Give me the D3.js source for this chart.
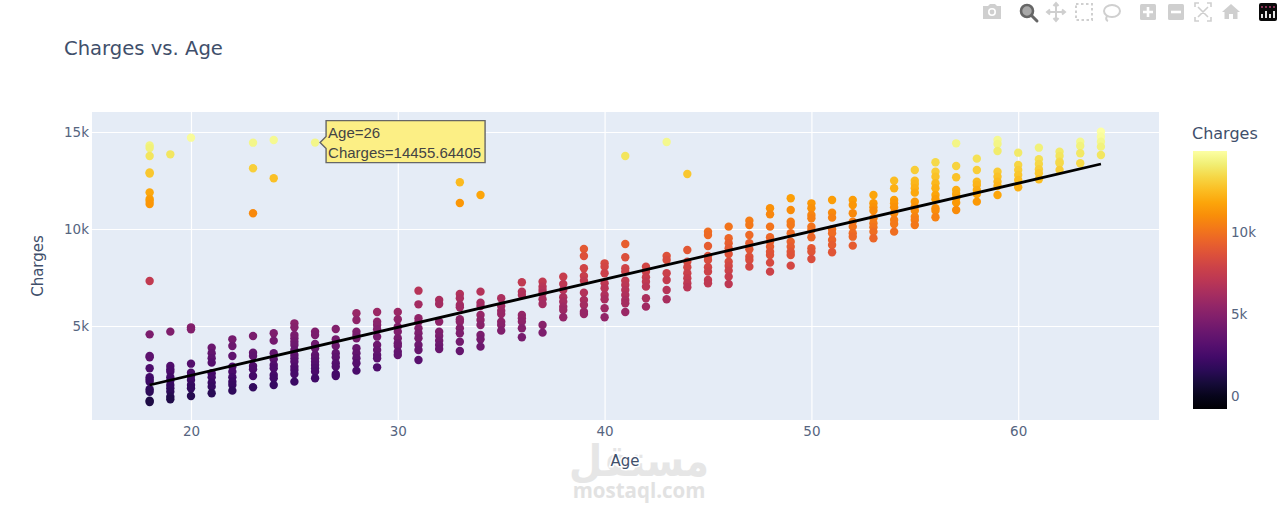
<!DOCTYPE html>
<html>
<head>
<meta charset="utf-8">
<title>Charges vs. Age</title>
<script src="https://cdnjs.cloudflare.com/ajax/libs/d3/7.8.5/d3.min.js"></script>
<style>
  html, body { margin: 0; padding: 0; background: #fff; overflow: hidden; }
  svg { display: block; }
  text { font-family: "DejaVu Sans", sans-serif; }
</style>
</head>
<body>
<svg id="chart" width="1280" height="512"></svg>
<script>
// Insurance charges per age, one list per age value
const ages = [18,19,20,21,22,23,24,25,26,27,28,29,30,31,32,33,34,35,36,37,38,39,40,41,42,43,44,45,46,47,48,49,50,51,52,53,54,55,56,57,58,59,60,61,62,63,64];
const chargesByAge = [
  [14305,14176,13764,12913,12860,11882,11547,11444,11289,7320,4570,3454,3386,2820,2355,2240,2127,1737,1613,1150,1083],
  [13850,4709,2939,2767,2647,2355,2183,1960,1788,1616,1359,1221],
  [14709,4932,4829,3059,2596,2424,2218,1960,1788,1393],
  [3884,3592,3334,3111,2561,2355,2080,1874,1530],
  [4313,3970,3454,2905,2647,2355,2132,1960,1668],
  [14451,13130,10810,4485,3626,3454,2939,2767,2424,1840],
  [14589,12615,4623,4245,3592,3283,2991,2819,2475,2303,1960],
  [5138,4932,4537,4365,4193,4022,3764,3506,3334,3162,2905,2733,2527,2132],
  [14455.64405,4709,4537,4073,3850,3506,3334,3162,2991,2819,2647,2303],
  [4846,4313,3970,3592,3386,3077,2905,2527,2424],
  [5654,5310,4709,4537,4365,3850,3592,3334,3077,2699],
  [5722,5224,5052,4829,4451,4022,3764,3506,3334,2870],
  [5722,5344,4966,4709,4365,4108,3970,3678,3506],
  [6822,6117,5396,5224,4880,4623,4365,4022,3764,3249],
  [6341,6135,5224,4709,4485,4245,4022,3815],
  [12408,11341,6650,6427,6083,5963,5345,5224,4880,4623,4193,3712],
  [11753,6771,6204,6032,5569,5311,5053,4538,4314,3936],
  [6427,6032,5792,5620,5225,5053,4761],
  [7252,6771,6599,5569,5397,5225,4881,4417],
  [7286,7029,6857,6685,6376,6135,5053,4658],
  [7544,7166,6857,6479,6256,5998,5826,5448],
  [8970,8609,7974,7579,7338,6720,6341,6084,5740,5620],
  [8231,8060,7716,7201,6943,6599,6376,5912,5448],
  [13764,9228,8541,7974,7802,7338,7115,6857,6599,6342,6170,5723],
  [8060,7802,7510,7286,7029,6427,5998],
  [14485,8610,8404,7717,7373,6858,6377],
  [12836,8919,8318,8026,7717,7459,7201,6995],
  [9864,9692,9125,8610,8404,8026,7802,7373,7201],
  [10122,9520,9263,9005,8713,8318,8095,7854,7545,7167],
  [10431,10208,9692,9263,8954,8576,8404,8060],
  [11067,10757,10122,9572,9349,9091,8833,8661,8266,7803],
  [11582,10981,10380,10208,9778,9349,9091,8833,8661,8112],
  [11324,11067,10723,10551,10122,9950,9572,9005,8833,8455],
  [11496,10843,10586,9984,9778,9435,9177,8799],
  [11496,11239,10809,10380,10122,9778,9606,9143],
  [11755,11325,11119,10947,10552,10294,10088,9865,9521],
  [12493,12098,11497,11325,11119,10810,10466,10260,9865],
  [13043,12493,12321,12098,11875,11411,11153,10947,10638,10466,10208],
  [13438,12957,12699,12356,12098,11755,11531,11067,10947,10603],
  [14417,13249,12665,12012,11806,11583,11359,10982],
  [13627,13043,12442,12270,12012,11806,11411],
  [14589,14383,14022,12957,12699,12442,12218,11755],
  [13936,13301,13043,12785,12528,12150],
  [14194,13593,13352,13077,12871,12562],
  [13988,13765,13472,13387,13043],
  [14503,14280,13902,13387],
  [15019,14761,14503,14246,13816]
];

// Fitted trend line endpoints
const trendAges = [18, 64];
const trendCharges = [1959, 13351];

const xTicks = [20, 30, 40, 50, 60];
const yTicks = [5000, 10000, 15000];
const colorTicks = [0, 5000, 10000];
const colorDomain = [-790, 14910];
const hoverAge = 26;
const hoverCharges = 14455.64405;

const svg = d3.select("#chart");
const plot = { left: 92, right: 1159, top: 112, bottom: 420 };
const bar = { left: 1193, right: 1227, top: 151, bottom: 409 };

const x = d3.scaleLinear()
  .domain([20 - 99 / 20.68, 20 + (1159 - 191) / 20.68])
  .range([plot.left, plot.right]);
const y = d3.scaleLinear()
  .domain([(423 - 420) * 51.55, (423 - 112) * 51.55])
  .range([plot.bottom, plot.top]);
const color = d3.scaleSequential(d3.interpolateInferno).domain(colorDomain);
const kFormat = d => d === 0 ? "0" : (d / 1000) + "k";

// Plot background
svg.append("rect")
  .attr("x", plot.left).attr("y", plot.top)
  .attr("width", plot.right - plot.left).attr("height", plot.bottom - plot.top)
  .attr("fill", "#e5ecf6");

// Axes with white grid lines
const xAxis = svg.append("g")
  .attr("transform", `translate(0,${plot.bottom})`)
  .call(d3.axisBottom(x).tickValues(xTicks).tickFormat(d3.format("d"))
    .tickSize(-(plot.bottom - plot.top)).tickPadding(6));
const yAxis = svg.append("g")
  .attr("transform", `translate(${plot.left},0)`)
  .call(d3.axisLeft(y).tickValues(yTicks).tickFormat(kFormat)
    .tickSize(-(plot.right - plot.left)).tickPadding(3));
[xAxis, yAxis].forEach(g => {
  g.select(".domain").remove();
  g.selectAll(".tick line").attr("stroke", "#fff").attr("stroke-width", 1.2);
  g.selectAll(".tick text").attr("fill", "#56657f").attr("font-size", 13.5);
});

// Scatter points
const points = ages.flatMap((age, i) => chargesByAge[i].map(charge => ({ age, charge })));
svg.append("g").selectAll("circle")
  .data(points)
  .join("circle")
  .attr("cx", d => x(d.age))
  .attr("cy", d => y(d.charge))
  .attr("r", 4.2)
  .attr("fill", d => color(d.charge));

// Trend line
const line = d3.line().x(d => x(d[0])).y(d => y(d[1]));
svg.append("path")
  .datum(d3.zip(trendAges, trendCharges))
  .attr("d", line)
  .attr("fill", "none")
  .attr("stroke", "#000")
  .attr("stroke-width", 2.8);

// Title and axis titles
svg.append("text").attr("x", 64).attr("y", 55)
  .attr("fill", "#3f4f6b").attr("font-size", 19.6).text("Charges vs. Age");

// Site mark below the axis
const mark = svg.append("g").attr("text-anchor", "middle");
mark.append("text").attr("transform", "translate(639,476) scale(0.87,1)")
  .attr("fill", "#e6e6e6").attr("font-size", 44).attr("font-weight", "bold").text("مستقل");
mark.append("text").attr("x", 639).attr("y", 498)
  .style("font-family", "'Open Sans', sans-serif").attr("font-weight", "bold")
  .attr("font-size", 20.5).attr("fill", "#e2e2e2").text("mostaql.com");

svg.append("text").attr("x", 625).attr("y", 466)
  .attr("text-anchor", "middle").attr("fill", "#3f4f6b").attr("font-size", 15)
  .attr("stroke", "#fff").attr("stroke-width", 3).attr("paint-order", "stroke")
  .text("Age");
svg.append("text")
  .attr("transform", "translate(43,266) rotate(-90)")
  .attr("text-anchor", "middle").attr("fill", "#3f4f6b").attr("font-size", 15)
  .text("Charges");

// Colour bar
const defs = svg.append("defs");
const gradient = defs.append("linearGradient")
  .attr("id", "barFill").attr("x1", 0).attr("x2", 0).attr("y1", 1).attr("y2", 0);
d3.range(0, 1.0001, 0.05).forEach(t => {
  gradient.append("stop").attr("offset", t).attr("stop-color", d3.interpolateInferno(t));
});
svg.append("rect")
  .attr("x", bar.left).attr("y", bar.top)
  .attr("width", bar.right - bar.left).attr("height", bar.bottom - bar.top)
  .attr("fill", "url(#barFill)");
const barScale = d3.scaleLinear().domain(colorDomain).range([bar.bottom, bar.top]);
const barAxis = svg.append("g")
  .attr("transform", `translate(${bar.right},0)`)
  .call(d3.axisRight(barScale).tickValues(colorTicks).tickFormat(kFormat).tickSize(0).tickPadding(4));
barAxis.select(".domain").remove();
barAxis.selectAll(".tick text").attr("fill", "#56657f").attr("font-size", 13.5);
svg.append("text").attr("x", 1192).attr("y", 139)
  .attr("fill", "#3f4f6b").attr("font-size", 16).text("Charges");

// Hover label on one point
const hx = x(hoverAge), hy = y(hoverCharges);
const hover = svg.append("g").attr("transform", `translate(${hx},${hy})`);
hover.append("path")
  .attr("d", "M5,0 L11,-6 L11,-22 L170,-22 L170,20 L11,20 L11,6 Z")
  .attr("fill", "#fcef85").attr("stroke", "#666").attr("stroke-width", 1.4);
const hoverText = hover.append("g")
  .attr("fill", "#444").attr("font-size", 15);
hoverText.append("text").attr("x", 13).attr("y", -5)
  .style("font-family", "'Liberation Sans', Arial, sans-serif").text("Age=" + hoverAge);
hoverText.append("text").attr("x", 13).attr("y", 15)
  .style("font-family", "'Liberation Sans', Arial, sans-serif").text("Charges=" + hoverCharges);

// Toolbar icons
const iconGrey = "#cfcfcf";
const tools = svg.append("g");
const camera = tools.append("g").attr("transform", "translate(992,12)");
camera.append("path").attr("fill", iconGrey)
  .attr("d", "M-9,-6 H-4 L-2,-8 H3 L5,-6 H9 V7 H-9 Z");
camera.append("circle").attr("r", 4).attr("fill", "#fff");
camera.append("circle").attr("r", 2.4).attr("fill", iconGrey);

const lens = tools.append("g").attr("transform", "translate(1027,11)");
lens.append("circle").attr("r", 6).attr("fill", "#a8a8a8").attr("stroke", "#666").attr("stroke-width", 2.6);
lens.append("line").attr("x1", 4.5).attr("y1", 4.5).attr("x2", 10).attr("y2", 10)
  .attr("stroke", "#666").attr("stroke-width", 3).attr("stroke-linecap", "round");

const pan = tools.append("g").attr("transform", "translate(1056,12)")
  .attr("stroke", iconGrey).attr("stroke-width", 2).attr("fill", "none");
pan.append("path").attr("d", "M-8,0 H8 M0,-8 V8 M-6,-2.5 L-9,0 L-6,2.5 M6,-2.5 L9,0 L6,2.5 M-2.5,-6 L0,-9 L2.5,-6 M-2.5,6 L0,9 L2.5,6");

tools.append("rect").attr("x", 1076).attr("y", 4).attr("width", 16).attr("height", 16)
  .attr("fill", "none").attr("stroke", iconGrey).attr("stroke-width", 2).attr("stroke-dasharray", "2.5 2.5");

const lasso = tools.append("g").attr("transform", "translate(1112,11)")
  .attr("fill", "none").attr("stroke", iconGrey).attr("stroke-width", 2);
lasso.append("ellipse").attr("rx", 8).attr("ry", 6);
lasso.append("path").attr("d", "M-5,5 Q-7,9 -4,10");

const plus = tools.append("g").attr("transform", "translate(1148,12)");
plus.append("rect").attr("x", -8).attr("y", -8).attr("width", 16).attr("height", 16).attr("rx", 1.5).attr("fill", iconGrey);
plus.append("path").attr("d", "M-5,0 H5 M0,-5 V5").attr("stroke", "#fff").attr("stroke-width", 2.6);

const minus = tools.append("g").attr("transform", "translate(1176,12)");
minus.append("rect").attr("x", -8).attr("y", -8).attr("width", 16).attr("height", 16).attr("rx", 1.5).attr("fill", iconGrey);
minus.append("path").attr("d", "M-5,0 H5").attr("stroke", "#fff").attr("stroke-width", 2.6);

tools.append("path").attr("transform", "translate(1203,12)")
  .attr("fill", "none").attr("stroke", iconGrey).attr("stroke-width", 1.6)
  .attr("d", "M-8,-5 V-9 H-4 M4,-9 H8 V-5 M8,5 V9 H4 M-4,9 H-8 V5 M-5,-5 L5,5 M5,-5 L-5,5");

tools.append("path").attr("transform", "translate(1231,12)")
  .attr("fill", iconGrey)
  .attr("d", "M0,-8 L9,0 H6.5 V7 H2 V2 H-2 V7 H-6.5 V0 H-9 Z");

const logo = tools.append("g").attr("transform", "translate(1268,12)");
logo.append("rect").attr("x", -9).attr("y", -9).attr("width", 18).attr("height", 18).attr("rx", 2).attr("fill", "#0a0a0a");
logo.selectAll("line").data([-6, -2, 2, 6]).join("line")
  .attr("x1", d => d).attr("x2", d => d)
  .attr("y1", 6).attr("y2", (d, i) => i % 2 ? -1 : 2)
  .attr("stroke", "#fff").attr("stroke-width", 1.8);
logo.selectAll("circle").data([-6, -2, 2, 6]).join("circle")
  .attr("cx", d => d).attr("cy", -5).attr("r", 0.9).attr("fill", "#c7457d");
</script>
</body>
</html>
